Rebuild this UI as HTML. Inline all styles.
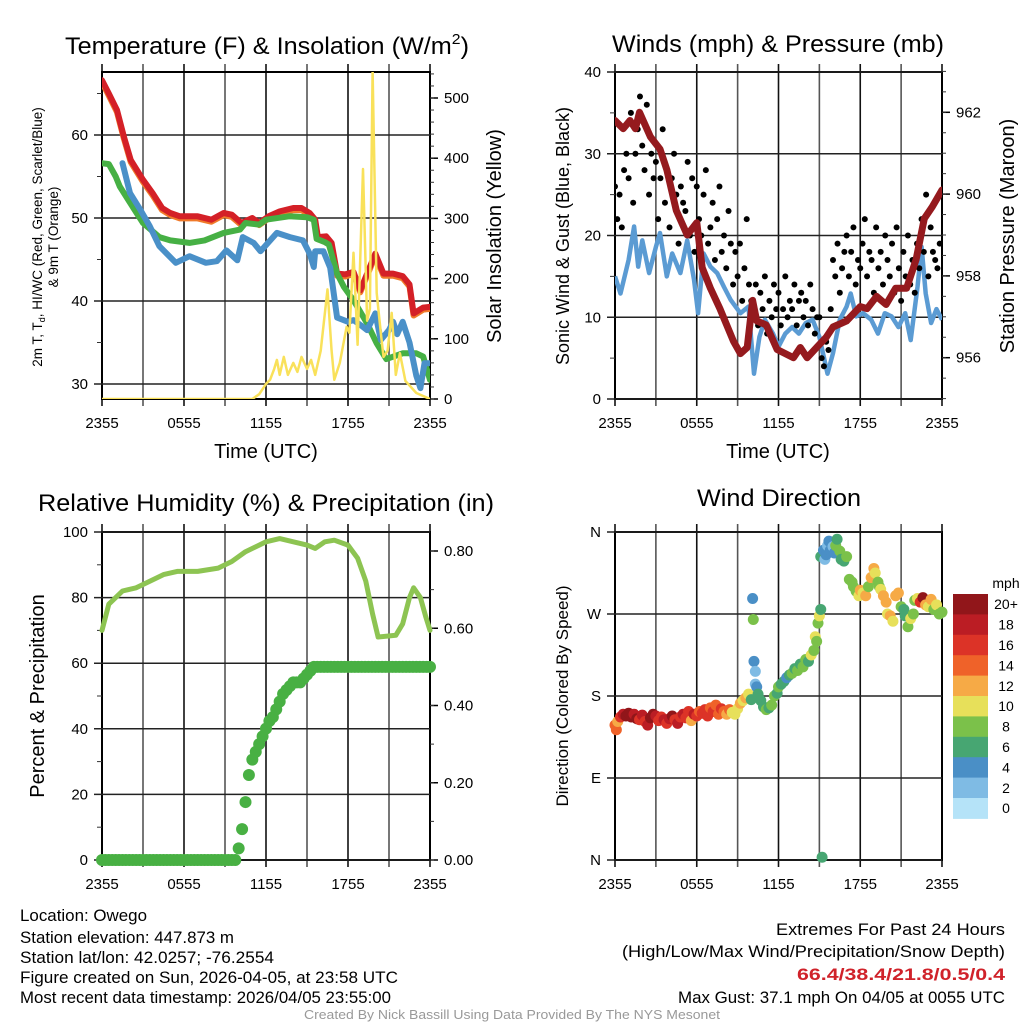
<!DOCTYPE html>
<html><head><meta charset="utf-8">
<style>
html,body{margin:0;padding:0;background:#fff;}
svg{display:block;font-family:"Liberation Sans",Arial,sans-serif;}
</style></head>
<body>
<svg id="c" width="1024" height="1024" viewBox="0 0 1024 1024" xmlns="http://www.w3.org/2000/svg">
<rect x="0" y="0" width="1024" height="1024" fill="#fff"/>
<g id="g1"></g>
<g id="g2"></g>
<g id="g3"></g>
<g id="g4"></g>

<text x="267" y="54" font-size="24" text-anchor="middle" textLength="404" lengthAdjust="spacingAndGlyphs">Temperature (F) &amp; Insolation (W/m<tspan font-size="15" dy="-10">2</tspan><tspan dy="10">)</tspan></text>
<text x="778" y="52" font-size="24" text-anchor="middle" textLength="332" lengthAdjust="spacingAndGlyphs">Winds (mph) &amp; Pressure (mb)</text>
<text x="266" y="511" font-size="24" text-anchor="middle" textLength="456" lengthAdjust="spacingAndGlyphs">Relative Humidity (%) &amp; Precipitation (in)</text>
<text x="779" y="506" font-size="24" text-anchor="middle" textLength="164" lengthAdjust="spacingAndGlyphs">Wind Direction</text>

<text x="266" y="458" font-size="20" text-anchor="middle">Time (UTC)</text>
<text x="778" y="458" font-size="20" text-anchor="middle">Time (UTC)</text>

<g transform="translate(42,237) rotate(-90)">
<text x="0" y="0" font-size="13.5" text-anchor="middle">2m T, T<tspan font-size="9" dy="3">d</tspan><tspan dy="-3">, HI/WC (Red, Green, Scarlet/Blue)</tspan></text>
<text x="0" y="16" font-size="13.5" text-anchor="middle">&amp; 9m T (Orange)</text>
</g>
<text transform="translate(501,236) rotate(-90)" font-size="20" text-anchor="middle">Solar Insolation (Yellow)</text>
<text transform="translate(569,236) rotate(-90)" font-size="18" text-anchor="middle">Sonic Wind &amp; Gust (Blue, Black)</text>
<text transform="translate(1014,236) rotate(-90)" font-size="20" text-anchor="middle">Station Pressure (Maroon)</text>
<text transform="translate(44,696) rotate(-90)" font-size="20" text-anchor="middle">Percent &amp; Precipitation</text>
<text transform="translate(568,696) rotate(-90)" font-size="17" text-anchor="middle">Direction (Colored By Speed)</text>

<g font-size="17">
<text x="20" y="921" textLength="127" lengthAdjust="spacingAndGlyphs">Location: Owego</text>
<text x="20" y="943" textLength="214" lengthAdjust="spacingAndGlyphs">Station elevation: 447.873 m</text>
<text x="20" y="963" textLength="254" lengthAdjust="spacingAndGlyphs">Station lat/lon: 42.0257; -76.2554</text>
<text x="20" y="983" textLength="378" lengthAdjust="spacingAndGlyphs">Figure created on Sun, 2026-04-05, at 23:58 UTC</text>
<text x="20" y="1003" textLength="371" lengthAdjust="spacingAndGlyphs">Most recent data timestamp: 2026/04/05 23:55:00</text>
</g>
<g font-size="17" text-anchor="end">
<text x="1005" y="935" textLength="229" lengthAdjust="spacingAndGlyphs">Extremes For Past 24 Hours</text>
<text x="1005" y="957" textLength="383" lengthAdjust="spacingAndGlyphs">(High/Low/Max Wind/Precipitation/Snow Depth)</text>
<text x="1005" y="980" textLength="208" lengthAdjust="spacingAndGlyphs" fill="#d0222a" font-weight="bold">66.4/38.4/21.8/0.5/0.4</text>
<text x="1005" y="1003" textLength="327" lengthAdjust="spacingAndGlyphs">Max Gust: 37.1 mph On 04/05 at 0055 UTC</text>
</g>
<text x="512" y="1019" font-size="13" fill="#999" text-anchor="middle" textLength="416" lengthAdjust="spacingAndGlyphs">Created By Nick Bassill Using Data Provided By The NYS Mesonet</text>
</svg>

<script>
// ---------- DATA ----------
const timeTickLabels = ["2355","0555","1155","1755","2355"];
const tempTicks = [30,40,50,60];
const solarTicks = [0,100,200,300,400,500];
const windTicks = [0,10,20,30,40];
const presTicks = [956,958,960,962];
const rhTicks = [0,20,40,60,80,100];
const precipTicks = [0,0.2,0.4,0.6,0.8];
const precipTickLabels = ["0.00","0.20","0.40","0.60","0.80"];
const dirTickLabels = ["N","E","S","W","N"];
const dirTicks = [0,90,180,270,360];
const speedBins = ["0","2","4","6","8","10","12","14","16","18","20+"];
const speedColors = ["#b5e3f8","#7fbbe4","#4a8fc6","#47a672","#7bc14a","#e7e05a","#f6aa46","#ef6229","#dc3327","#bb1d24","#91161a"];

const tempT = [0,0.5,1.1,1.6,2.1,3,3.7,4.4,5,5.7,7,8,8.9,9.5,10.2,11,11.5,12.2,13,14,14.6,15.2,15.6,15.8,16.4,16.8,17.2,17.8,18.4,18.9,19.4,20,20.6,21.3,22,22.5,22.8,23.5,24];
const tempV = [66.6,65,63,59.8,57,54.6,53,51.2,50.6,50.2,50.2,49.8,50.6,50.4,49.4,50,49.4,50.2,50.8,51.2,51.2,50.6,49.8,47.7,47.8,47,43.3,43.2,43.5,41.3,43.3,45.7,43.3,43.3,43,42,38.5,39.2,39.3];
const dewT = [0,0.5,1,1.3,2.3,3,4.2,5,6.4,7.5,8.9,10.1,10.5,11.5,12,13.7,15,15.5,15.7,16.3,16.6,17.2,17.7,18.4,19.4,20.1,20.8,22,23,23.5,24];
const dewV = [56.6,56.5,55,53.8,51.2,49.4,47.7,47.3,47,47.3,48.2,48.6,49.4,49.2,49.8,50.2,50.1,49.8,47.5,47.1,46.8,43.3,41.7,40.1,37.3,34.9,33,33.7,33.7,33.3,30.5];
const wcT = [1.5,2.05,2.8,3.5,4.2,5.4,6.4,7.6,8.4,9.1,9.9,10.3,11.1,11.6,12.8,13.75,14.7,15.2,15.5,15.6,16.2,16.7,17.2,18,18.4,19,19.4,20,20.4,21,21.3,21.6,22,22.5,23,23.3,23.6,24];
const wcV = [56.6,53,51,49,46.6,44.6,45.4,44.6,44.8,46.1,44.9,47.7,47,46,48.2,47.7,47.3,45.7,44.1,46,46,44,38,37.5,37.7,37,36.5,38.5,35.3,36.5,37.5,36,37.5,35,31,29.5,32.5,32.5];
const solarT = [0,11,11.5,12,12.3,12.6,12.8,13,13.3,13.6,14,14.3,14.6,15,15.3,15.6,16,16.5,16.8,17,17.4,17.9,18.1,18.4,18.7,19.1,19.4,19.6,19.8,20.1,20.4,20.6,20.9,21.2,21.5,21.8,22.2,22.6,23,24];
const solarV = [0,0,8,25,32,50,65,40,70,40,60,45,70,50,65,40,80,182,80,32,60,120,110,243,90,382,130,150,545,176,110,70,80,143,40,76,30,20,10,0];

const windT = [0,0.4,1,1.4,1.7,2,2.5,3,3.3,3.8,4.2,4.8,5.3,5.8,6.1,6.5,7,7.5,8,8.5,9.2,9.8,10.2,10.6,11,11.6,12,12.5,13,13.5,14,14.5,15,15.6,16,16.5,17,17.3,17.7,18.2,18.8,19.3,19.8,20.3,20.8,21.3,21.7,22.2,22.5,22.8,23.2,23.6,24];
const windV = [15,12.9,17,21.1,16.2,19.4,15.4,18.6,20.3,15,17.8,15.4,19.4,14.6,10.5,17.8,16.2,15.4,13.7,12.1,10.5,11.3,3.1,7.6,9.7,8,6.4,8,8.8,8,9.3,9.7,7.6,3.1,5.6,9.7,11.3,12.9,10.1,10.5,9.7,8,10.5,10.1,8.8,10.5,7.2,13.7,18.6,12.9,9.3,11,9.7];
const gustV = [26,22,25,21,28,30, 27,35,24,30,33,37, 31,28,36,25,30,27, 29,22,27,33,24,28, 21,27,30,25,19,26, 24,23,29,20,27,18, 26,22,20,25,28,19, 21,24,17,22,26,18, 20,16,23,19,14,18, 15,19,12,16,22,14, 12,10,14,9,13,11, 15,8,12,10,14,11, 13,9,11,15,10,12, 11,14,9,12,13,10, 12,9,14,11,8,10, 10,5,4,7,6,11, 17,15,19,13,16,18, 20,15,18,21,14,17, 16,19,22,15,18,17, 13,21,16,18,14,20, 17,15,19,13,21,16, 12,18,15,20,14,17, 13,19,16,22,18,25, 15,21,18,17,16,19];
const presT = [0,0.6,1.1,1.5,1.8,2.6,3.3,3.8,4.5,5.3,6,6.4,7,7.7,8.7,9.2,9.7,10.1,10.4,11.1,11.9,13.1,13.6,14.1,14.8,15.5,16,17,18,18.5,19.2,19.9,20.6,21.4,22.1,22.7,23.3,24];
const presV = [961.8,961.6,961.8,961.6,962,961.4,961.1,960.6,959.6,959,959.3,958.2,957.7,957.2,956.4,956.1,956.25,957.4,956.9,956.8,956.2,956,956.25,956,956.25,956.5,956.75,956.9,957.25,957.2,957.5,957.3,957.7,957.7,958.4,959.4,959.7,960.1];

const rhT = [0,0.5,1.5,2.5,3.5,4.5,5.5,7,8.5,9.5,10.5,11.5,12,13,14,15,15.6,16.3,17,18,18.7,19.3,19.8,20.2,21.5,22,22.5,22.8,23.3,23.7,24];
const rhV = [70,78,82,83,85,87,88,88,89,91,94,96,97,98,97,96,95,97,97.5,96,92,85,75,68,68.5,72,80,83,80,74,70];
const precipV = [0,0,0,0,0,0,0,0,0,0,0,0,0,0,0,0,0,0,0,0,0,0,0,0,0,0,0,0,0,0,0,0,0,0,0,0,0,0,0,
 0,0.03,0.08,0.15,0.22,0.26,0.28,0.30,0.32,0.34,0.36,0.37,0.39,0.41,0.43,0.44,0.45,0.46,0.46,0.46,0.47,0.48,0.49,0.50,
 0.5,0.5,0.5,0.5,0.5,0.5,0.5,0.5,0.5,0.5,0.5,0.5,0.5,0.5,0.5,0.5,0.5,0.5,0.5,0.5,0.5,0.5,0.5,0.5,0.5,0.5,0.5,0.5,0.5,0.5,0.5,0.5,0.5,0.5];

const dirT = [0,0.1,0.2,0.4,0.6,0.8,1.0,1.2,1.4,1.6,1.8,2.0,2.2,2.4,2.6,2.8,3.0,3.2,3.4,3.6,3.8,4.0,4.2,4.4,4.6,4.8,5.0,5.2,5.4,5.6,5.8,6.0,6.2,6.4,6.6,6.8,7.0,7.2,7.4,7.6,7.8,8.0,8.2,8.4,8.6,8.8,9.0,9.2,9.4,9.6,9.8,10.0,10.1,10.15,10.2,10.3,10.3,10.4,10.5,10.7,10.9,11.1,11.3,11.5,11.7,11.9,12.0,12.2,12.4,12.6,12.8,13.0,13.2,13.4,13.6,13.8,14.0,14.2,14.4,14.6,14.7,14.8,14.9,15.0,15.1,15.1,15.2,15.3,15.4,15.5,15.6,15.7,15.8,16.0,16.1,16.2,16.3,16.5,16.6,16.8,17.0,17.2,17.4,17.5,17.7,17.9,18.0,18.2,18.4,18.6,18.8,19.0,19.1,19.3,19.4,19.5,19.7,19.9,20.0,20.2,20.4,20.6,20.8,21.0,21.2,21.3,21.5,21.7,21.9,22.0,22.2,22.4,22.6,22.8,23.0,23.2,23.4,23.6,23.8,24.0];
const dirV = [148,143,152,157,160,158,161,157,160,155,154,159,152,148,156,160,158,153,157,154,150,155,158,154,150,157,160,156,163,153,160,158,163,161,165,158,167,163,170,160,166,163,160,165,162,160,166,172,175,178,182,176,287,264,218,207,193,190,182,175,168,165,167,170,180,183,190,193,196,200,203,205,210,208,215,212,220,218,225,230,245,240,260,268,275,333,3,340,330,335,345,350,340,344,337,345,352,339,330,328,333,308,305,300,295,290,296,293,290,300,310,320,315,305,300,297,290,283,270,268,262,290,293,278,275,268,256,265,270,285,287,283,288,280,278,286,275,280,270,272];
const dirS = [14,14,13,16,19,20,21,20,18,21,16,18,17,18,20,21,19,16,17,18,16,18,20,17,18,16,18,17,16,12,18,17,15,17,16,17,15,17,15,14,16,14,13,14,11,10,10,12,11,12,10,6,5,9,4,3,2,5,6,6,7,8,7,8,9,7,8,7,6,4,7,8,7,8,7,8,8,7,10,8,10,9,9,10,7,6,7,5,3,4,2,4,4,3,5,8,7,9,7,6,8,8,8,9,8,10,12,11,13,8,12,13,10,9,8,10,12,12,11,12,10,13,12,8,6,7,9,10,9,8,10,17,20,13,10,12,9,10,8,9];

// ---------- HELPERS ----------
const NS = "http://www.w3.org/2000/svg";
function mk(parent, tag, attrs){
  const e = document.createElementNS(NS, tag);
  for (const k in attrs) e.setAttribute(k, attrs[k]);
  parent.appendChild(e);
  return e;
}
function linScale(d0,d1,r0,r1){ return v => r0 + (v-d0)*(r1-r0)/(d1-d0); }

function frame(g, X0, X1, Y0, Y1, name){
  const xs = linScale(0,24,X0,X1);
  for (let h=0; h<=24; h+=3){
    const ln = mk(g,'line',{x1:xs(h),x2:xs(h),y1:Y0-8,y2:Y1+7,stroke:(h%6===0)?'#111':'#555','stroke-width':1.6});
    
    
  }
  const r = mk(g,'rect',{x:X0,y:Y0,width:X1-X0,height:Y1-Y0,fill:'none',stroke:'#000','stroke-width':2});
  
  
  for (let i=0;i<timeTickLabels.length;i++){
    const t = mk(g,'text',{x:xs(i*6),y:Y1+29,'font-size':15,'text-anchor':'middle'});
    t.textContent = timeTickLabels[i];
    
    
  }
  return xs;
}
function hgrid(g, ys, ticks, labels, X0, X1, name, minor){
  ticks.forEach((v,i)=>{
    const ln = mk(g,'line',{x1:X0-8,x2:X1,y1:ys(v),y2:ys(v),stroke:'#222','stroke-width':1.5});
    
    
    const t = mk(g,'text',{x:X0-14,y:ys(v)+5,'font-size':15,'text-anchor':'end'});
    t.textContent = labels ? labels[i] : String(v);
    
    
  });
  (minor||[]).forEach(v=>{
    const ln = mk(g,'line',{x1:X0-5,x2:X0,y1:ys(v),y2:ys(v),stroke:'#333','stroke-width':1});
    
    
  });
}
function rightAxis(g, ys, ticks, labels, X1, name, minorStep, lo, hi){
  ticks.forEach((v,i)=>{
    const ln = mk(g,'line',{x1:X1,x2:X1+8,y1:ys(v),y2:ys(v),stroke:'#000','stroke-width':1.5});
    
    
    const t = mk(g,'text',{x:X1+14,y:ys(v)+5,'font-size':15,'text-anchor':'start'});
    t.textContent = labels ? labels[i] : String(v);
    
    
  });
  if (minorStep){
    for (let v=lo; v<=hi+1e-9; v+=minorStep){
      const ln = mk(g,'line',{x1:X1,x2:X1+4,y1:ys(v),y2:ys(v),stroke:'#333','stroke-width':1});
      
      
    }
  }
}
function pathFrom(ts, vs, xs, ys){
  return ts.map((t,i)=>(i?'L':'M')+xs(t).toFixed(1)+','+ys(vs[i]).toFixed(1)).join(' ');
}
function clip(id, X0,X1,Y0,Y1){
  const svg = document.getElementById('c');
  let defs = svg.querySelector('defs') || mk(svg,'defs',{});
  const cp = mk(defs,'clipPath',{id:id});
  mk(cp,'rect',{x:X0,y:Y0,width:X1-X0,height:Y1-Y0});
}

// ---------- PANEL 1 ----------
(function(){
  const g = document.getElementById('g1');
  const X0=102,X1=430,Y0=72,Y1=399;
  const xs = frame(g,X0,X1,Y0,Y1,'temp');
  const ys = linScale(30,60,384,135);
  const ysR = linScale(0,500,399,98);
  hgrid(g, ys, tempTicks, null, X0, X1, 'temp', [35,45,55,65]);
  rightAxis(g, ysR, solarTicks, null, X1, 'solar', 20, 0, 540);
  clip('cp1',X0,X1,Y0,Y1);
  const s = mk(g,'g',{'clip-path':'url(#cp1)'});
  let p;
  p = mk(s,'path',{d:pathFrom(tempT,tempV.map(v=>v-0.25),xs,ys),fill:'none',stroke:'#f07a2a','stroke-width':6,'stroke-linejoin':'round','stroke-linecap':'round'});
   
  p = mk(s,'path',{d:pathFrom(tempT,tempV,xs,ys),fill:'none',stroke:'#d42027','stroke-width':6,'stroke-linejoin':'round','stroke-linecap':'round'});
   
  p = mk(s,'path',{d:pathFrom(dewT,dewV,xs,ys),fill:'none',stroke:'#46b044','stroke-width':6,'stroke-linejoin':'round','stroke-linecap':'round'});
   
  p = mk(s,'path',{d:pathFrom(wcT,wcV,xs,ys),fill:'none',stroke:'#4a90c8','stroke-width':6,'stroke-linejoin':'round','stroke-linecap':'round'});
   
  p = mk(s,'path',{d:pathFrom(solarT,solarV,xs,ysR),fill:'none',stroke:'#f9e15a','stroke-width':2.5,'stroke-linejoin':'round'});
   
})();

// ---------- PANEL 2 ----------
(function(){
  const g = document.getElementById('g2');
  const X0=615,X1=942,Y0=72,Y1=399;
  const xs = frame(g,X0,X1,Y0,Y1,'wind');
  const ys = linScale(0,40,399,72);
  const ysR = linScale(956,962,357.7,112.3);
  hgrid(g, ys, windTicks, null, X0, X1, 'wind', [5,15,25,35]);
  rightAxis(g, ysR, presTicks, null, X1, 'pressure', 0.5, 955, 963);
  clip('cp2',X0,X1,Y0,Y1);
  const s = mk(g,'g',{'clip-path':'url(#cp2)'});
  let p = mk(s,'path',{d:pathFrom(windT,windV,xs,ys),fill:'none',stroke:'#5b9bd3','stroke-width':4.5,'stroke-linejoin':'round'});
   
  gustV.forEach((v,i)=>{
    const c = mk(s,'circle',{cx:xs(i/6),cy:ys(v),r:3,fill:'#000'});
    
    
  });
  p = mk(s,'path',{d:pathFrom(presT,presV,xs,ysR),fill:'none',stroke:'#951a1e','stroke-width':7,'stroke-linejoin':'round','stroke-linecap':'round'});
   
})();

// ---------- PANEL 3 ----------
(function(){
  const g = document.getElementById('g3');
  const X0=102,X1=430,Y0=532,Y1=860;
  const xs = frame(g,X0,X1,Y0,Y1,'rh');
  const ys = linScale(0,100,860,532);
  const ysR = linScale(0,0.8,860,551);
  hgrid(g, ys, rhTicks, null, X0, X1, 'rh', [10,30,50,70,90]);
  rightAxis(g, ysR, precipTicks, precipTickLabels, X1, 'precip', 0.1, 0, 0.8);
  let p = mk(g,'path',{d:pathFrom(rhT,rhV,xs,ys),fill:'none',stroke:'#8dc452','stroke-width':5,'stroke-linejoin':'round','stroke-linecap':'round'});
   
  precipV.forEach((v,i)=>{
    const c = mk(g,'circle',{cx:xs(i/4),cy:ysR(v),r:6,fill:'#48b043'});
    
    
  });
})();

// ---------- PANEL 4 ----------
(function(){
  const g = document.getElementById('g4');
  const X0=615,X1=942,Y0=532,Y1=860;
  const xs = frame(g,X0,X1,Y0,Y1,'dir');
  const ys = linScale(0,360,860,532);
  hgrid(g, ys, dirTicks, dirTickLabels, X0, X1, 'dir', []);
  dirV.forEach((v,i)=>{
    const bin = Math.min(10, Math.floor(dirS[i]/2));
    const c = mk(g,'circle',{cx:xs(dirT[i]),cy:ys(v),r:5.5,fill:speedColors[bin]});
    
    
  });
  const cbX=953, cbW=35, cbTop=594, cbH=20.4;
  const m = mk(g,'text',{x:1006,y:588,'font-size':14,'text-anchor':'middle'});
  m.textContent='mph';
  
  
  for (let k=0;k<11;k++){
    const idx = 10-k;
    const r = mk(g,'rect',{x:cbX,y:cbTop+k*cbH,width:cbW,height:cbH+0.5,fill:speedColors[idx]});
    
    
    const t = mk(g,'text',{x:1006,y:cbTop+k*cbH+cbH/2+5,'font-size':14,'text-anchor':'middle'});
    t.textContent = speedBins[idx];
    
    
  }
})();
</script>
</body></html>
